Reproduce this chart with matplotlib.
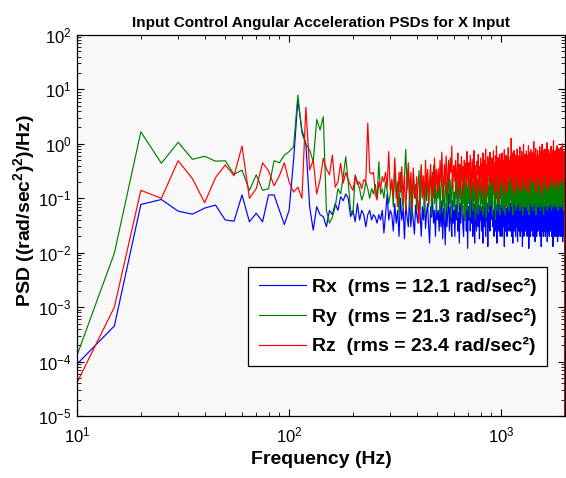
import numpy as np
import matplotlib
matplotlib.use('Agg')
import matplotlib.pyplot as plt

plt.rcParams['font.family'] = ['Liberation Sans', 'DejaVu Sans']
plt.rcParams['mathtext.fontset'] = 'custom'
plt.rcParams['mathtext.rm'] = 'Liberation Sans'
plt.rcParams['mathtext.bf'] = 'Liberation Sans:bold'

# frequency bins (5 Hz resolution, 10..2000 Hz)
freq = np.arange(10, 2001, 5)

# ---- 10..120 Hz ----
rx_low = [9e-5, 4.5e-4, 0.077, 0.095, 0.058, 0.051, 0.066, 0.075, 0.040, 0.038, 0.115, 0.037,
          0.053, 0.037, 0.115, 0.115, 0.06, 0.033, 0.06, 0.5, 6.4, 1.8, 1.0]
ry_low = [1.3e-4, 0.0098, 1.66, 0.44, 1.07, 0.52, 0.59, 0.48, 0.49, 0.275, 0.33, 0.14,
          0.27, 0.14, 0.15, 0.49, 0.45, 0.62, 0.72, 0.88, 7.9, 1.55, 1.0]
rz_low = [4.1e-5, 0.001, 0.14, 0.10, 0.49, 0.23, 0.083, 0.24, 0.41, 0.26, 0.91, 0.10,
          0.15, 0.45, 0.32, 0.17, 0.26, 0.45, 0.2, 0.13, 0.16, 0.10, 4.7]

# ---- 125..300 Hz ----
rx_mid = [0.07, 0.026, 0.07, 0.05, 0.046, 0.03, 0.06, 0.05, 0.08, 0.06, 0.107, 0.09,
          0.12, 0.1, 0.046, 0.06, 0.037, 0.08, 0.04, 0.06, 0.05, 0.03, 0.05, 0.06,
          0.04, 0.05, 0.045, 0.035, 0.05, 0.04, 0.06, 0.023, 0.05, 0.12, 0.04, 0.06]
ry_mid = [0.77, 0.47, 2.8, 1.8, 3.15, 0.06, 0.035, 0.045, 0.07, 0.15, 0.12, 0.25,
          0.58, 0.2, 0.06, 0.05, 0.27, 0.2, 0.15, 0.093, 0.12, 0.2, 0.15, 0.1,
          0.15, 0.12, 0.18, 0.1, 0.47, 0.12, 0.15, 0.1, 0.2, 0.14, 0.08, 0.12]
rz_mid = [0.33, 0.5, 0.12, 0.22, 0.54, 0.35, 0.27, 0.62, 0.16, 0.2, 0.44, 0.19,
          0.3, 0.22, 0.17, 0.14, 0.25, 0.18, 0.2, 0.15, 0.22, 0.2, 2.4, 0.3,
          0.28, 0.3, 0.12, 0.093, 0.2, 0.15, 0.25, 0.2, 0.3, 0.16, 0.72, 0.14]

# ---- 305..2000 Hz (one row per 100 Hz) ----
rx_high = [
    0.05, 0.025, 0.08, 0.035, 0.06, 0.02, 0.1, 0.04, 0.065, 0.018, 0.08, 0.045, 0.03, 0.11, 0.03, 0.07, 0.04, 0.022, 0.075, 0.05,
    0.035, 0.09, 0.05, 0.02, 0.07, 0.04, 0.1, 0.028, 0.055, 0.08, 0.03, 0.015, 0.07, 0.045, 0.095, 0.035, 0.06, 0.02, 0.075, 0.04,
    0.06, 0.025, 0.08, 0.03, 0.09, 0.018, 0.065, 0.04, 0.014, 0.08, 0.03, 0.055, 0.12, 0.025, 0.07, 0.04, 0.02, 0.09, 0.035, 0.06,
    0.02, 0.075, 0.04, 0.1, 0.025, 0.055, 0.015, 0.08, 0.035, 0.065, 0.13, 0.03, 0.02, 0.075, 0.04, 0.09, 0.025, 0.06, 0.012, 0.07,
    0.04, 0.09, 0.025, 0.065, 0.035, 0.1, 0.02, 0.055, 0.08, 0.015, 0.07, 0.04, 0.025, 0.095, 0.05, 0.03, 0.075, 0.018, 0.06, 0.04,
    0.07, 0.025, 0.055, 0.015, 0.09, 0.04, 0.03, 0.11, 0.02, 0.065, 0.04, 0.08, 0.013, 0.055, 0.03, 0.09, 0.025, 0.07, 0.04, 0.12,
    0.32, 0.07, 0.03, 0.06, 0.02, 0.09, 0.04, 0.025, 0.075, 0.05, 0.015, 0.08, 0.03, 0.1, 0.025, 0.06, 0.04, 0.02, 0.075, 0.035,
    0.065, 0.02, 0.09, 0.04, 0.03, 0.075, 0.013, 0.055, 0.1, 0.025, 0.065, 0.04, 0.02, 0.085, 0.035, 0.055, 0.12, 0.025, 0.045, 0.075,
    0.025, 0.06, 0.085, 0.02, 0.045, 0.07, 0.015, 0.09, 0.035, 0.075, 0.025, 0.055, 0.11, 0.02, 0.045, 0.065, 0.03, 0.085, 0.016, 0.06,
    0.04, 0.09, 0.025, 0.065, 0.035, 0.02, 0.075, 0.05, 0.11, 0.025, 0.045, 0.013, 0.085, 0.035, 0.065, 0.02, 0.095, 0.04, 0.06, 0.025,
    0.075, 0.03, 0.06, 0.1, 0.02, 0.045, 0.07, 0.025, 0.085, 0.012, 0.055, 0.035, 0.095, 0.04, 0.02, 0.075, 0.035, 0.065, 0.12, 0.025,
    0.045, 0.08, 0.02, 0.06, 0.035, 0.095, 0.025, 0.07, 0.016, 0.085, 0.045, 0.03, 0.075, 0.02, 0.06, 0.11, 0.025, 0.05, 0.07, 0.035,
    0.09, 0.025, 0.06, 0.04, 0.02, 0.08, 0.035, 0.065, 0.013, 0.085, 0.045, 0.025, 0.1, 0.035, 0.06, 0.02, 0.08, 0.04, 0.025, 0.07,
    0.035, 0.085, 0.02, 0.06, 0.04, 0.11, 0.025, 0.07, 0.035, 0.016, 0.08, 0.04, 0.06, 0.025, 0.095, 0.035, 0.02, 0.07, 0.045, 0.08,
    0.025, 0.06, 0.095, 0.035, 0.07, 0.02, 0.045, 0.085, 0.025, 0.06, 0.013, 0.08, 0.04, 0.03, 0.1, 0.025, 0.065, 0.02, 0.07, 0.04,
    0.08, 0.035, 0.02, 0.07, 0.04, 0.095, 0.025, 0.06, 0.016, 0.085, 0.035, 0.07, 0.02, 0.045, 0.08, 0.025, 0.06, 0.035, 0.09, 0.02,
    0.06, 0.04, 0.025, 0.08, 0.035, 0.07, 0.02, 0.09, 0.04, 0.016, 0.065, 0.03, 0.08, 0.025, 0.05, 0.02, 0.06, 0.015, 0.025, 1e-7,
]
ry_high = [
    0.22, 0.07, 0.38, 0.1, 0.2, 0.05, 0.3, 0.12, 0.06, 0.26, 0.79, 0.14, 0.35, 0.07, 0.22, 0.04, 0.28, 0.1, 0.18, 0.06,
    0.16, 0.32, 0.06, 0.42, 0.1, 0.24, 0.045, 0.2, 0.09, 0.34, 0.07, 0.17, 0.27, 0.05, 0.14, 0.4, 0.08, 0.22, 0.055, 0.15,
    0.1, 0.25, 0.05, 0.18, 0.38, 0.07, 0.2, 0.04, 0.12, 0.28, 0.06, 0.15, 0.5, 0.08, 0.22, 0.045, 0.17, 0.32, 0.07, 0.13,
    0.06, 0.22, 0.1, 0.32, 0.045, 0.15, 0.26, 0.07, 0.42, 0.1, 0.05, 0.19, 0.08, 0.28, 0.04, 0.16, 0.24, 0.06, 0.12, 0.36,
    0.08, 0.17, 0.045, 0.26, 0.1, 0.2, 0.06, 0.38, 0.09, 0.18, 0.04, 0.12, 0.3, 0.07, 0.22, 0.05, 0.15, 0.33, 0.1, 0.06,
    0.19, 0.08, 0.3, 0.05, 0.15, 0.24, 0.07, 0.45, 0.1, 0.045, 0.2, 0.11, 0.28, 0.06, 0.17, 0.08, 0.36, 0.07, 0.14, 0.25,
    0.1, 0.05, 0.22, 0.12, 0.32, 0.07, 0.17, 0.04, 0.26, 0.1, 0.4, 0.06, 0.19, 0.08, 0.28, 0.13, 0.05, 0.24, 0.1, 0.34,
    0.13, 0.07, 0.28, 0.17, 0.06, 0.4, 0.1, 0.22, 0.05, 0.33, 0.12, 0.25, 0.07, 0.16, 0.46, 0.08, 0.2, 0.06, 0.27, 0.12,
    0.22, 0.09, 0.34, 0.07, 0.16, 0.26, 0.05, 0.2, 0.11, 0.4, 0.08, 0.28, 0.14, 0.06, 0.24, 0.1, 0.33, 0.07, 0.18, 0.27,
    0.08, 0.3, 0.14, 0.22, 0.06, 0.42, 0.12, 0.25, 0.07, 0.18, 0.36, 0.1, 0.05, 0.24, 0.13, 0.3, 0.07, 0.2, 0.11, 0.48,
    0.16, 0.07, 0.27, 0.12, 0.36, 0.06, 0.2, 0.1, 0.31, 0.14, 0.05, 0.25, 0.15, 0.4, 0.08, 0.22, 0.12, 0.29, 0.07, 0.18,
    0.33, 0.1, 0.22, 0.06, 0.26, 0.13, 0.44, 0.08, 0.18, 0.12, 0.3, 0.05, 0.24, 0.15, 0.36, 0.07, 0.2, 0.1, 0.28, 0.14,
    0.07, 0.26, 0.12, 0.34, 0.08, 0.2, 0.06, 0.29, 0.15, 0.48, 0.1, 0.22, 0.07, 0.31, 0.14, 0.18, 0.05, 0.26, 0.12, 0.37,
    0.1, 0.24, 0.07, 0.3, 0.15, 0.11, 0.4, 0.08, 0.22, 0.06, 0.27, 0.13, 0.34, 0.1, 0.19, 0.07, 0.28, 0.15, 0.44, 0.12,
    0.2, 0.08, 0.31, 0.13, 0.25, 0.06, 0.22, 0.12, 0.37, 0.1, 0.18, 0.07, 0.28, 0.15, 0.24, 0.08, 0.4, 0.12, 0.2, 0.07,
    0.27, 0.13, 0.22, 0.07, 0.33, 0.1, 0.19, 0.44, 0.12, 0.24, 0.06, 0.28, 0.15, 0.09, 0.36, 0.08, 0.22, 0.14, 0.26, 0.07,
    0.18, 0.3, 0.1, 0.24, 0.07, 0.34, 0.13, 0.2, 0.08, 0.4, 0.12, 0.26, 0.06, 0.22, 0.15, 0.31, 0.1, 0.18, 0.07, 1e-7,
]
rz_high = [
    0.22, 0.1, 0.55, 0.16, 0.07, 0.3, 0.13, 0.38, 0.09, 0.26, 0.06, 0.2, 0.45, 0.12, 0.3, 0.07, 0.36, 0.15, 0.1, 0.25,
    0.07, 0.035, 0.2, 0.38, 0.11, 0.26, 0.09, 0.5, 0.15, 0.32, 0.08, 0.22, 0.42, 0.12, 0.3, 0.1, 0.55, 0.17, 0.34, 0.13,
    0.35, 0.14, 0.5, 0.2, 0.7, 0.25, 0.11, 0.42, 0.17, 0.6, 0.3, 0.12, 0.45, 0.22, 0.55, 0.3, 0.91, 0.15, 0.28, 0.4,
    0.2, 0.5, 0.12, 0.32, 0.68, 0.16, 0.42, 0.1, 0.3, 0.58, 0.2, 0.38, 0.13, 0.5, 0.24, 0.44, 0.16, 0.72, 0.33, 0.2,
    0.45, 0.15, 0.62, 0.27, 0.11, 0.52, 0.3, 0.18, 0.75, 0.14, 0.4, 0.24, 0.09, 0.48, 0.28, 0.64, 0.17, 0.38, 0.13, 0.55,
    0.24, 0.44, 0.15, 0.68, 0.3, 0.1, 0.5, 0.25, 0.8, 0.17, 0.42, 0.13, 0.58, 0.28, 0.48, 0.2, 0.7, 0.15, 0.36, 0.23,
    0.55, 0.18, 0.4, 0.75, 0.22, 0.45, 0.12, 0.6, 0.27, 0.91, 0.3, 0.14, 0.56, 0.24, 0.42, 0.09, 0.65, 0.28, 0.48, 0.18,
    0.4, 0.68, 0.2, 0.5, 0.3, 0.12, 0.78, 0.26, 0.45, 0.17, 0.62, 0.33, 0.13, 0.55, 0.24, 0.85, 0.3, 0.48, 0.2, 0.42,
    0.58, 0.24, 1.26, 0.38, 0.16, 0.68, 0.3, 0.5, 0.12, 0.75, 0.34, 0.2, 0.62, 0.4, 0.14, 0.54, 0.28, 0.8, 0.22, 0.46,
    0.3, 0.6, 0.16, 0.44, 0.88, 0.25, 0.55, 0.13, 0.4, 0.72, 0.3, 0.18, 0.58, 0.36, 0.98, 0.22, 0.48, 0.15, 0.64, 0.33,
    0.5, 0.2, 0.74, 0.35, 0.14, 0.62, 0.4, 0.24, 0.92, 0.3, 0.55, 0.12, 0.68, 0.38, 0.18, 0.78, 0.3, 0.48, 0.22, 0.6,
    0.36, 0.7, 0.2, 0.52, 1.1, 0.28, 0.45, 0.15, 0.64, 0.34, 0.82, 0.22, 0.48, 0.13, 0.58, 0.38, 0.75, 0.24, 0.5, 0.3,
    0.62, 0.22, 0.46, 0.88, 0.18, 0.56, 0.34, 0.12, 0.72, 0.4, 0.26, 0.98, 0.2, 0.52, 0.36, 0.68, 0.15, 0.44, 0.78, 0.28,
    0.45, 0.8, 0.26, 0.58, 0.17, 0.4, 0.7, 0.3, 1.05, 0.22, 0.52, 0.14, 0.62, 0.35, 0.78, 0.24, 0.5, 0.18, 0.66, 0.4,
    0.28, 0.62, 0.4, 0.9, 0.2, 0.54, 0.32, 0.75, 0.15, 0.46, 0.68, 0.24, 1.15, 0.36, 0.56, 0.18, 0.72, 0.3, 0.5, 0.22,
    0.64, 0.32, 0.78, 0.2, 0.52, 0.4, 0.92, 0.26, 0.58, 0.15, 0.7, 0.36, 0.44, 0.82, 0.2, 0.6, 0.3, 0.74, 0.24, 0.55,
    0.35, 0.86, 0.22, 0.6, 0.4, 0.76, 0.25, 0.52, 1.0, 0.3, 0.66, 0.18, 0.58, 0.38, 0.74, 0.24, 0.5, 0.34, 0.62, 1e-7,
]

rx = np.array(rx_low + rx_mid + rx_high)
ry = np.array(ry_low + ry_mid + ry_high)
rz = np.array(rz_low + rz_mid + rz_high)
for s in (rx, ry, rz):
    assert len(s) == len(freq), (len(s), len(freq))

labels = ['Rx  (rms = 12.1 rad/sec\u00b2)',
          'Ry  (rms = 21.3 rad/sec\u00b2)',
          'Rz  (rms = 23.4 rad/sec\u00b2)']
colors = ['#0000ff', '#008000', '#ff0000']

fig = plt.figure(figsize=(5.66, 4.78), dpi=100)
ax = fig.add_axes([77 / 566, 1 - 416 / 478, 488 / 566, 381 / 478])
ax.set_facecolor('#f8f8f8')

for y, c, lab in zip((rx, ry, rz), colors, labels):
    ax.loglog(freq, y, color=c, lw=0.85, label=lab)

ax.set_xlim(10, 2000)
ax.set_ylim(1e-5, 1e2)
ax.tick_params(which='both', direction='in', top=True, right=True, labelsize=12)
ax.tick_params(which='major', length=5, width=0.8)
ax.tick_params(which='minor', length=3, width=0.6)
ax.tick_params(axis='x', pad=7)
ax.tick_params(axis='y', pad=4)
for sp in ax.spines.values():
    sp.set_linewidth(0.9)

ax.set_title('Input Control Angular Acceleration PSDs for X Input',
             fontsize=11, fontweight='bold', pad=6)
ax.set_xlabel('Frequency (Hz)', fontsize=14, fontweight='bold', labelpad=4)
ax.set_ylabel(r'PSD ((rad/sec$^{\mathbf{2}}$)$^{\mathbf{2}}$)/Hz)', fontsize=14, fontweight='bold')
ax.yaxis.set_label_coords(-0.079, 0.54)

leg = ax.legend(loc='lower right', bbox_to_anchor=(0.963, 0.131), borderaxespad=0,
                prop={'size': 14, 'weight': 'bold'}, handlelength=2.4, handletextpad=0.3,
                labelspacing=0.6, fancybox=False, framealpha=1, edgecolor='black',
                borderpad=0.55)
leg.get_frame().set_linewidth(0.9)

fig.savefig('out.png', dpi=100)
